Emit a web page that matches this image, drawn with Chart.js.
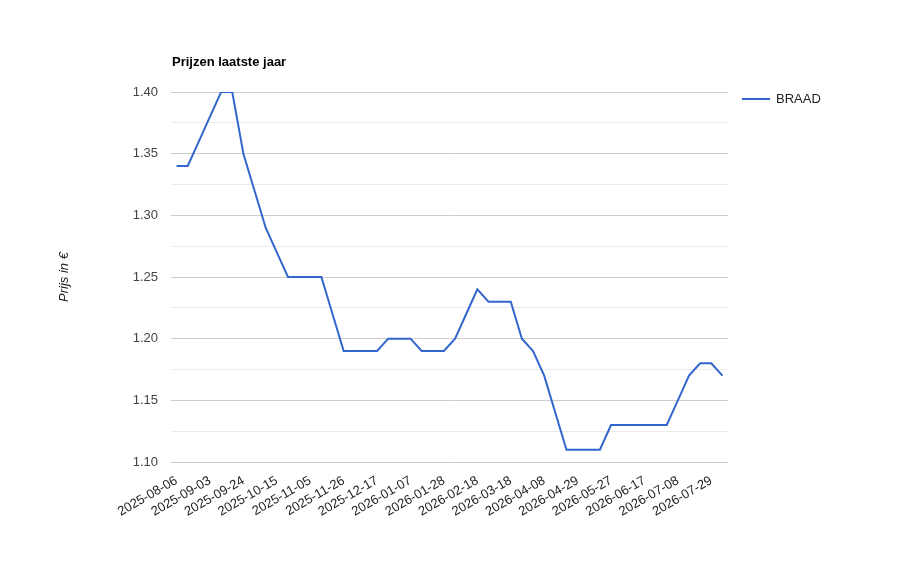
<!DOCTYPE html>
<html>
<head>
<meta charset="utf-8">
<script src="https://cdn.jsdelivr.net/npm/chart.js@4"></script>
<style>
  body { margin: 0; background: #fff; }
</style>
</head>
<body>
<canvas id="myChart" width="916" height="564"></canvas>
<script>
// weekly dates (a few weeks are missing in the source)
var weekLabels = [
    '2025-08-06', '2025-08-20', '2025-08-27', '2025-09-03', '2025-09-10', '2025-09-17',
    '2025-09-24', '2025-10-01', '2025-10-08', '2025-10-15', '2025-10-22', '2025-10-29',
    '2025-11-05', '2025-11-12', '2025-11-19', '2025-11-26', '2025-12-03', '2025-12-10',
    '2025-12-17', '2025-12-24', '2025-12-31', '2026-01-07', '2026-01-14', '2026-01-21',
    '2026-01-28', '2026-02-04', '2026-02-11', '2026-02-18', '2026-02-25', '2026-03-11',
    '2026-03-18', '2026-03-25', '2026-04-01', '2026-04-08', '2026-04-15', '2026-04-22',
    '2026-04-29', '2026-05-06', '2026-05-20', '2026-05-27', '2026-06-03', '2026-06-10',
    '2026-06-17', '2026-06-24', '2026-07-01', '2026-07-08', '2026-07-15', '2026-07-22',
    '2026-07-29', '2026-08-05'
];

var braadPrices = [
    1.34, 1.34, 1.36, 1.38, 1.40, 1.40,
    1.35, 1.32, 1.29, 1.27, 1.25, 1.25,
    1.25, 1.25, 1.22, 1.19, 1.19, 1.19,
    1.19, 1.20, 1.20, 1.20, 1.19, 1.19,
    1.19, 1.20, 1.22, 1.24, 1.23, 1.23,
    1.23, 1.20, 1.19, 1.17, 1.14, 1.11,
    1.11, 1.11, 1.11, 1.13, 1.13, 1.13,
    1.13, 1.13, 1.13, 1.15, 1.17, 1.18,
    1.18, 1.17
];

var seriesName = 'BRAAD';
var chartTitle = 'Prijzen laatste jaar';
var yAxisTitle = 'Prijs in €';
var yMin = 1.10;
var yMax = 1.40;
var yStep = 0.025;   // labelled every 0.05, light line in between

var fontFamily = "Arial, 'Liberation Sans', sans-serif";

function isMajor(v) {
    return Math.round(v * 1000) % 50 === 0;
}

// title + legend drawn google-style (left aligned title, legend beside plot)
var extras = {
    id: 'extras',
    afterDraw: function (chart) {
        var c = chart.ctx;
        var area = chart.chartArea;
        var ds = chart.data.datasets[0];
        c.save();
        c.fillStyle = '#000';
        c.font = 'bold 13px ' + fontFamily;
        c.textAlign = 'left';
        c.textBaseline = 'middle';
        c.fillText(chartTitle, area.left + 1, 62.5);

        c.strokeStyle = ds.borderColor;
        c.lineWidth = 2;
        c.beginPath();
        c.moveTo(area.right + 14, 99);
        c.lineTo(area.right + 42, 99);
        c.stroke();
        c.fillStyle = '#222';
        c.font = '13px ' + fontFamily;
        c.fillText(ds.label, area.right + 48, 99.5);
        c.restore();
    }
};

var ctx = document.querySelector('#myChart').getContext('2d');
var myChart = new Chart(ctx, {
    type: 'line',
    data: {
        labels: weekLabels,
        datasets: [{
            label: seriesName,
            data: braadPrices,
            borderColor: '#3366cc',
            backgroundColor: '#3366cc',
            borderWidth: 2,
            pointRadius: 0,
            tension: 0
        }]
    },
    options: {
        responsive: false,
        animation: false,
        layout: { padding: { left: 55, top: 92, right: 188, bottom: 0 } },
        plugins: {
            legend: { display: false },
            title: { display: false },
            tooltip: { enabled: false }
        },
        scales: {
            x: {
                offset: true,
                grid: { display: false, drawTicks: false },
                border: { display: false },
                ticks: {
                    autoSkip: false,
                    maxRotation: 30,
                    minRotation: 30,
                    padding: 11,
                    color: '#222',
                    font: { family: fontFamily, size: 13 },
                    callback: function (val, i) {
                        return i % 3 === 0 ? this.getLabelForValue(val) : '';
                    }
                },
                afterFit: function (scale) { scale.height = 102; }
            },
            y: {
                min: yMin,
                max: yMax,
                border: { display: false },
                grid: {
                    drawTicks: false,
                    color: function (c) { return isMajor(c.tick.value) ? '#cccccc' : '#ebebeb'; }
                },
                ticks: {
                    stepSize: yStep,
                    padding: 13,
                    color: '#444',
                    font: { family: fontFamily, size: 13 },
                    callback: function (v) { return isMajor(v) ? v.toFixed(2) : ''; }
                },
                title: {
                    display: true,
                    text: yAxisTitle,
                    color: '#222',
                    padding: { top: 2 },
                    font: { family: fontFamily, size: 13, style: 'italic' }
                },
                afterFit: function (scale) { scale.width = 116; }
            }
        }
    },
    plugins: [extras]
});
</script>
</body>
</html>
